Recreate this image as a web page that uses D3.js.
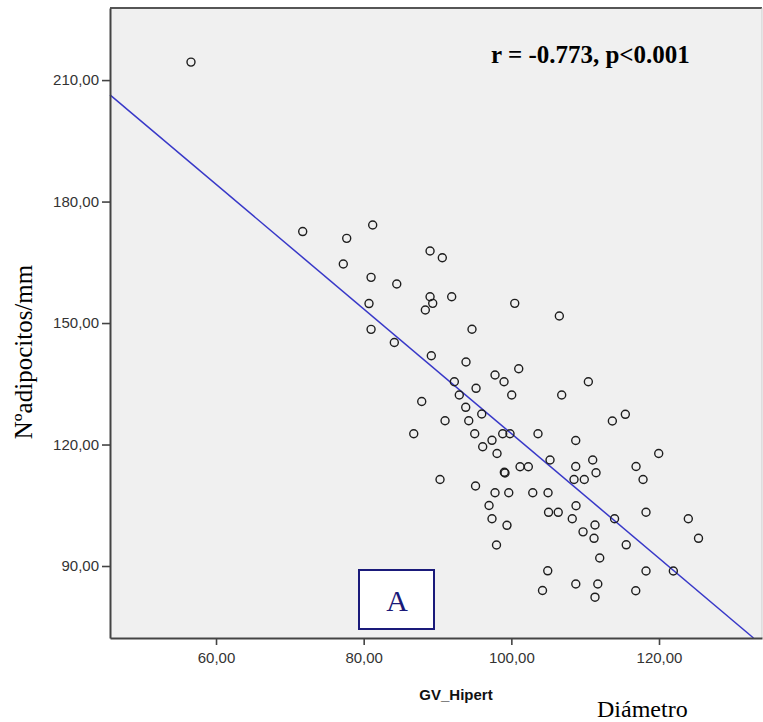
<!DOCTYPE html>
<html>
<head>
<meta charset="utf-8">
<script src="https://cdn.jsdelivr.net/npm/d3@7"></script>
<style>
  body { margin: 0; background: #fff; }
  svg { display: block; }
</style>
</head>
<body>
<svg id="chart"></svg>
<script>
// GV_Hipert (x) vs Nºadipocitos/mm (y)
var gvHipert = [
  56.61, 71.74, 77.70, 81.22, 77.24, 81.00, 84.48, 80.72, 88.99, 90.65,
  88.99, 89.35, 88.35, 91.92, 81.00, 84.15, 94.67, 100.46, 106.50, 89.16,
  93.86, 101.00, 97.79, 99.01, 92.28, 110.43, 95.22, 92.95, 100.05, 106.82,
  87.86, 93.82, 95.99, 91.02, 94.23, 115.44, 113.68, 86.78, 95.04, 98.83,
  99.82, 103.61, 97.38, 108.72, 96.12, 98.06, 119.96, 105.24, 111.02, 101.18,
  102.30, 108.72, 116.89, 99.05, 99.14, 111.47, 90.34, 108.49, 109.88, 117.84,
  95.15, 97.79, 99.65, 102.90, 104.97, 96.98, 108.76, 105.04, 106.35, 118.24,
  97.38, 108.25, 113.98, 123.97, 99.41, 111.33, 109.71, 111.20, 125.35, 97.99,
  115.56, 111.97, 104.93, 118.24, 121.94, 104.22, 108.73, 111.71, 111.33, 116.85
];
var adipocitos = [
  214.44, 172.59, 170.91, 174.20, 164.57, 161.28, 159.63, 154.81, 167.78, 166.12,
  156.49, 154.86, 153.21, 156.49, 148.44, 145.19, 148.47, 154.86, 151.73, 141.93,
  140.37, 138.72, 137.16, 135.51, 135.51, 135.51, 133.88, 132.22, 132.22, 132.22,
  130.62, 129.19, 127.53, 125.88, 125.88, 127.46, 125.80, 122.67, 122.67, 122.67,
  122.67, 122.67, 121.04, 120.99, 119.46, 117.78, 117.78, 116.17, 116.17, 114.52,
  114.52, 114.57, 114.57, 113.14, 112.96, 113.04, 111.36, 111.36, 111.36, 111.36,
  109.75, 108.10, 108.10, 108.10, 108.10, 104.94, 104.89, 103.26, 103.26, 103.28,
  101.68, 101.68, 101.68, 101.68, 100.05, 100.12, 98.44, 96.84, 96.84, 95.19,
  95.23, 91.98, 88.81, 88.77, 88.77, 83.95, 85.56, 85.56, 82.30, 83.90
];
var xTicks = [60, 80, 100, 120];
var yTicks = [90, 120, 150, 180, 210];
var xDomain = [45.64, 133.95];
var yDomain = [72.22, 227.8];
// fit line as drawn: y = a + b*x
var fitA = 276.6, fitB = -1.539;
var statText = "r = -0.773, p<0.001";

var points = gvHipert.map(function(d, i) { return {x: d, y: adipocitos[i]}; });

var W = 763, H = 722;
var margin = {top: 8, right: 1, bottom: 84, left: 110};
var width = W - margin.left - margin.right,
    height = H - margin.top - margin.bottom;

var svg = d3.select("#chart").attr("width", W).attr("height", H);
var g = svg.append("g")
    .attr("transform", "translate(" + margin.left + "," + margin.top + ")");

var x = d3.scaleLinear().domain(xDomain).range([0, width]);
var y = d3.scaleLinear().domain(yDomain).range([height, 0]);

var fmt = function(d) { return d3.format(".2f")(d).replace(".", ","); };

// plot background
g.append("rect")
    .attr("width", width)
    .attr("height", height)
    .attr("fill", "#f0f0f0");

// top and right frame
g.append("line")
    .attr("x1", 0).attr("x2", width)
    .attr("y1", 0).attr("y2", 0)
    .attr("stroke", "#555").attr("stroke-width", 2);
g.append("line")
    .attr("x1", width).attr("x2", width)
    .attr("y1", 0).attr("y2", height)
    .attr("stroke", "#ccc").attr("stroke-width", 1);

// regression line
var fitLine = d3.line()
    .x(function(d) { return x(d); })
    .y(function(d) { return y(fitA + fitB * d); });
var xEnd = (yDomain[0] - fitA) / fitB;
g.append("path")
    .datum([xDomain[0], xEnd])
    .attr("fill", "none")
    .attr("stroke", "#3838c8")
    .attr("stroke-width", 1.5)
    .attr("d", fitLine);

// points
g.selectAll(".pt")
    .data(points)
    .enter().append("circle")
    .attr("class", "pt")
    .attr("cx", function(d) { return x(d.x); })
    .attr("cy", function(d) { return y(d.y); })
    .attr("r", 4)
    .attr("fill", "none")
    .attr("stroke", "#1e1e1e")
    .attr("stroke-width", 1.4);

// axes
var xAxis = g.append("g")
    .attr("transform", "translate(0," + height + ")")
    .call(d3.axisBottom(x).tickValues(xTicks).tickFormat(fmt)
        .tickSize(7).tickSizeOuter(0).tickPadding(7));
var yAxis = g.append("g")
    .call(d3.axisLeft(y).tickValues(yTicks).tickFormat(fmt)
        .tickSize(8).tickSizeOuter(0).tickPadding(3));

[xAxis, yAxis].forEach(function(ax) {
    ax.select(".domain").attr("stroke", "#444").attr("stroke-width", 2);
    ax.selectAll(".tick line").attr("stroke", "#444").attr("stroke-width", 1.6);
    ax.selectAll(".tick text")
        .attr("fill", "#333")
        .style("font-family", "Liberation Sans, Arial, sans-serif")
        .style("font-size", "15px");
});

// axis titles
svg.append("text")
    .attr("x", 456)
    .attr("y", 700)
    .attr("text-anchor", "middle")
    .style("font-family", "Liberation Sans, Arial, sans-serif")
    .style("font-weight", "bold")
    .style("font-size", "15px")
    .attr("fill", "#111")
    .text("GV_Hipert");

svg.append("text")
    .attr("transform", "translate(32,352) rotate(-90)")
    .attr("text-anchor", "middle")
    .style("font-family", "Liberation Serif, Times New Roman, serif")
    .style("font-size", "25px")
    .attr("fill", "#000")
    .text("Nºadipocitos/mm");

svg.append("text")
    .attr("x", 597)
    .attr("y", 717)
    .attr("text-anchor", "start")
    .style("font-family", "Liberation Serif, Times New Roman, serif")
    .style("font-size", "24px")
    .attr("fill", "#000")
    .text("Diámetro");

// correlation annotation
svg.append("text")
    .attr("x", 491)
    .attr("y", 63)
    .style("font-family", "Liberation Serif, Times New Roman, serif")
    .style("font-weight", "bold")
    .style("font-size", "25px")
    .attr("fill", "#000")
    .text(statText);

// panel label box
var box = svg.append("g").attr("transform", "translate(359,570)");
box.append("rect")
    .attr("width", 75)
    .attr("height", 59)
    .attr("fill", "#fff")
    .attr("stroke", "#1a1a7a")
    .attr("stroke-width", 2);
box.append("text")
    .attr("x", 38)
    .attr("y", 41)
    .attr("text-anchor", "middle")
    .style("font-family", "Liberation Serif, Times New Roman, serif")
    .style("font-size", "30px")
    .attr("fill", "#1a1a7a")
    .text("A");
</script>
</body>
</html>
